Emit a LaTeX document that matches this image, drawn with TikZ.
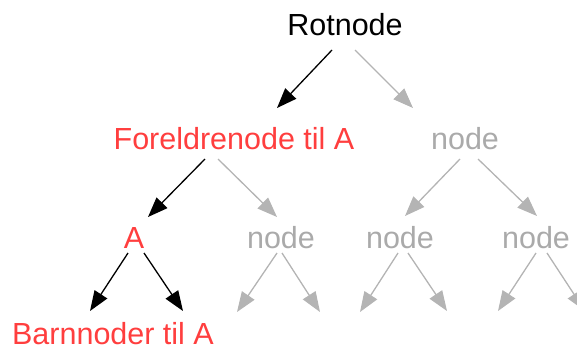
\documentclass[tikz,border=0pt]{standalone}
\usepackage{fontspec}
\setmainfont{Liberation Sans}
\usetikzlibrary{arrows.meta,calc}
\definecolor{hl}{RGB}{255,62,62}
\definecolor{gtext}{RGB}{170,170,170}
\definecolor{garrow}{RGB}{180,180,180}
\tikzset{
  lbl/.style={anchor=base,inner sep=0pt,font=\fontsize{30.5}{36}\selectfont},
  blk/.style={draw=black,line width=1.3pt,-{Triangle[length=20pt,width=15pt]}},
  gry/.style={draw=garrow,line width=1.3pt,-{Triangle[length=20pt,width=15pt]},fill=garrow},
}
\begin{document}
\begin{tikzpicture}[x=1pt,y=-1pt]
\useasboundingbox (0,0) rectangle (577,349);
\clip (0,0) rectangle (577,349);
\node[lbl,text=black] (root) at (345,35) {Rotnode};
\node[lbl,text=hl] (par) at (234,149) {Foreldrenode til A};
\node[lbl,text=gtext] (n1) at (465,149) {node};
\node[lbl,text=hl] (a) at (134,248) {A};
\node[lbl,text=gtext] (n2a) at (281,248) {node};
\node[lbl,text=gtext] (n2b) at (400,248) {node};
\node[lbl,text=gtext] (n2c) at (536,248) {node};
\node[lbl,text=hl] (kids) at (113,344) {Barnnoder til A};
% free ends
\coordinate (f1) at (237,312);
\coordinate (f2) at (320,312);
\coordinate (f3) at (360,312);
\coordinate (f4) at (447,311);
\coordinate (f5) at (498,311);
\coordinate (f6) at (585,311);
% root
\draw[blk] ($(root.base)+(-13,15)$) -- ($(par.base)+(43,-41)$);
\draw[gry] ($(root.base)+(10,15)$) -- ($(n1.base)+(-52,-41)$);
% parent
\draw[blk] ($(par.base)+(-29,10)$) -- ($(a.base)+(14,-31)$);
\draw[gry] ($(par.base)+(-16,10)$) -- ($(n2a.base)+(-4,-31)$);
% n1
\draw[gry] ($(n1.base)+(-5,10)$) -- ($(n2b.base)+(5,-32)$);
\draw[gry] ($(n1.base)+(13,10)$) -- ($(n2c.base)+(1,-32)$);
% A
\draw[blk] ($(a.base)+(-6,5)$) -- ($(kids.base)+(-23,-33)$);
\draw[blk] ($(a.base)+(10,5)$) -- ($(kids.base)+(70,-33)$);
% lower gray
\draw[gry] ($(n2a.base)+(-4,5)$) -- (f1);
\draw[gry] ($(n2a.base)+(1,5)$) -- (f2);
\draw[gry] ($(n2b.base)+(-2,5)$) -- (f3);
\draw[gry] ($(n2b.base)+(8,5)$) -- (f4);
\draw[gry] ($(n2c.base)+(0,5)$) -- (f5);
\draw[gry] ($(n2c.base)+(11,5)$) -- (f6);
\end{tikzpicture}
\end{document}
